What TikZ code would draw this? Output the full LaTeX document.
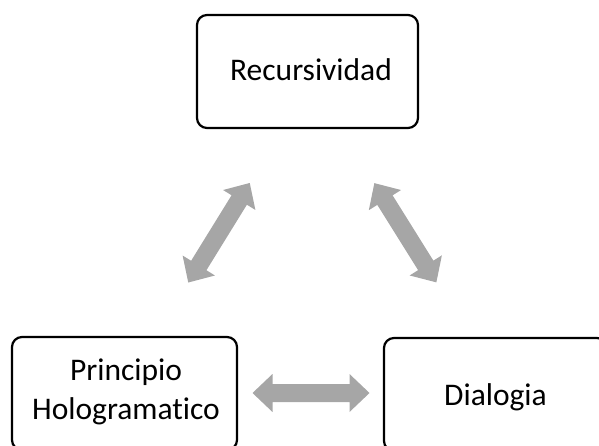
\documentclass[tikz,border=0pt]{standalone}
\usepackage{fontspec}
\setmainfont[Ligatures=NoCommon]{Carlito}
\definecolor{arrowgray}{HTML}{A6A6A6}
\tikzset{
  boxnode/.style={draw=black, line width=2.2pt, rounded corners=10pt, inner sep=0pt},
  lbl/.style={inner sep=0pt, font=\fontsize{31.5}{39}\selectfont, align=center},
  dblarr/.pic={
    \fill[arrowgray] (-58.5,0) -- (-38.5,19) -- (-38.5,9) -- (38.5,9) -- (38.5,19)
      -- (58.5,0) -- (38.5,-19) -- (38.5,-9) -- (-38.5,-9) -- (-38.5,-19) -- cycle;
  }
}
\begin{document}
\begin{tikzpicture}[x=1pt,y=1pt]
\useasboundingbox (0,0) rectangle (599,445);
% boxes
\node[boxnode, minimum width=221pt, minimum height=113pt] (rec) at (307.5,373.5) {};
\node[boxnode, minimum width=225pt, minimum height=113pt] (pho) at (124.5,51.5) {};
\node[boxnode, minimum width=223pt, minimum height=113pt] (dia) at (495.5,50.5) {};
% labels
\node[lbl, anchor=base] (rect) at (311,364) {Recursividad};
\node[lbl, anchor=base] (phot) at (126,26) {Principio\\Hologramatico};
\node[lbl, anchor=base] (diat) at (495.5,40) {Dialogia};
% arrows
\pic (a1) at (311,52) {dblarr};
\pic[rotate=58.3] (a2) at (219,212.25) {dblarr};
\pic[rotate=122] (a3) at (405.35,212.25) {dblarr};
\end{tikzpicture}
\end{document}
